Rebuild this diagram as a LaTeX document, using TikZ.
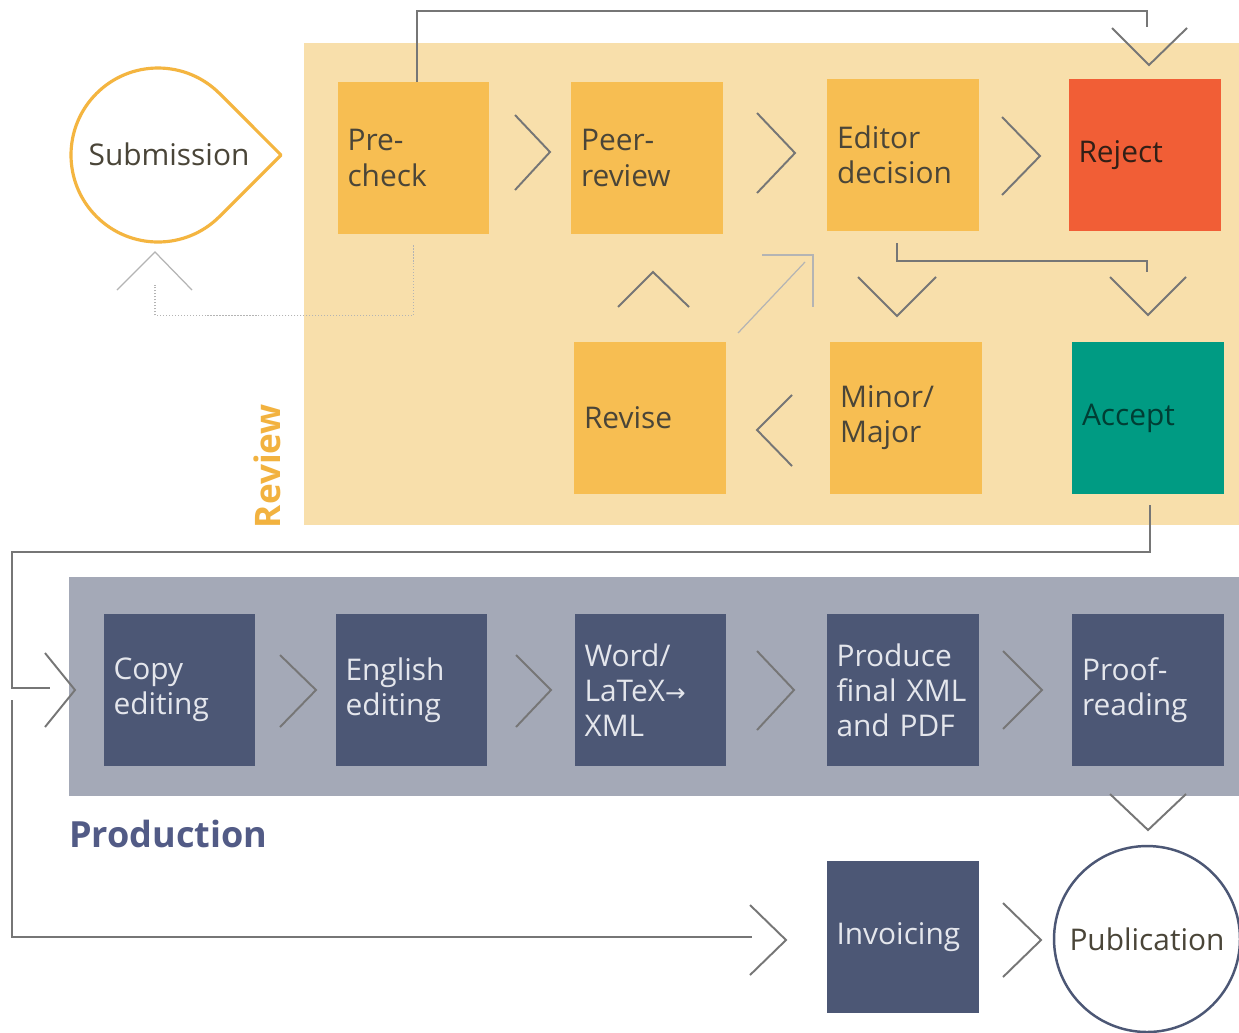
\documentclass[tikz,border=0pt]{standalone}
\usepackage{fontspec}
\setmainfont{Open Sans}
\newfontfamily\arrowfont{DejaVu Sans}
\usetikzlibrary{calc}
\definecolor{reviewbg}{HTML}{F8DFAB}
\definecolor{obox}{HTML}{F7BE52}
\definecolor{rejectc}{HTML}{F15E36}
\definecolor{acceptc}{HTML}{009B83}
\definecolor{prodbg}{HTML}{A4A9B7}
\definecolor{slate}{HTML}{4C5775}
\definecolor{linec}{HTML}{767676}
\definecolor{reviewlab}{HTML}{F2B23F}
\definecolor{prodlab}{HTML}{525B86}
\definecolor{subc}{HTML}{F4B540}
\definecolor{darktext}{HTML}{4A4538}
\definecolor{lighttext}{HTML}{E4E6EC}
\begin{document}
\begin{tikzpicture}[x=0.02cm,y=-0.02cm,
  every node/.style={inner sep=0pt},
  box/.style={minimum height=3.04cm, text width=2.64cm, inner xsep=0.2cm, inner ysep=0pt, align=left, font=\fontsize{17}{20}\selectfont},
  rbox/.style={box, fill=obox, text=darktext},
  pbox/.style={box, fill=slate, text=lighttext},
  chev/.style={draw=linec, line width=1.1pt},
  conn/.style={draw=linec, line width=1.1pt},
  faint/.style={draw=linec!55, line width=0.7pt},
]
\useasboundingbox (0,0) rectangle (1239,1032);
\fill[white] (0,0) rectangle (1239,1032);
% bands
\fill[reviewbg] (304,43) rectangle (1239,525);
\fill[prodbg] (69,577) rectangle (1239,796);
% labels
\node[rotate=90, font=\bfseries\fontsize{20}{24}\selectfont, text=reviewlab] (revlab) at (267,466) {Review};
\node[anchor=base west, font=\bfseries\fontsize{20.5}{24}\selectfont, text=prodlab] (prodlab) at (69,847) {Production};
% submission teardrop
\draw[subc, line width=1.8pt, line join=round] (158,155) ++(45:87) arc[start angle=45, end angle=315, radius=87] -- (281,155) -- cycle;
\node[font=\fontsize{17}{20}\selectfont, text=darktext] (sub) at (169,154) {Submission};
% review boxes
\node[rbox] (pre) at (413.5,158) {Pre-\\check};
\node[rbox] (peer) at (647,158) {Peer-\\review};
\node[rbox] (edit) at (903,155) {Editor\\decision};
\node[rbox, fill=rejectc, text=darktext!70!rejectc!40!black] (rej) at (1144.5,155) {\raisebox{-0.08cm}{Reject}};
\node[rbox] (rev) at (650,418) {\raisebox{-0.08cm}{Revise}};
\node[rbox] (minor) at (906,418) {Minor/\\Major};
\node[rbox, fill=acceptc, text=acceptc!40!black] (acc) at (1148,418) {\raisebox{-0.08cm}{Accept}};
% production boxes
\node[pbox] (copy) at (179.5,690) {Copy\\editing};
\node[pbox] (eng) at (411.5,690) {English\\editing};
\node[pbox] (word) at (650.5,690) {Word/\\LaTeX{\arrowfont\fontsize{14}{20}\selectfont →}\\XML};
\node[pbox] (prod) at (902.5,690) {Produce\\final XML\\and PDF};
\node[pbox] (proof) at (1148,690) {Proof-\\reading};
\node[pbox] (inv) at (902.5,937) {\raisebox{-0.12cm}{Invoicing}};
\node[circle, draw=slate, line width=1.4pt, minimum size=3.72cm, font=\fontsize{17}{20}\selectfont, text=darktext] (pub) at (1147,939) {Publication};
% coordinates
\coordinate (rejin) at (1147,27);
\coordinate (accin) at (1147,272);
\coordinate (subin) at (155,285);
\coordinate (leftcorner) at (12,688);
\coordinate (prodin) at (50,688);
\coordinate (bypass) at (12,700);
\coordinate (bypasscorner) at (12,937);
\coordinate (invin) at (752,937);
\coordinate (revA) at (738,333);
\coordinate (revB) at (805,262);
\coordinate (revC) at (762,255);
\coordinate (revD) at (813,255);
\coordinate (revE) at (813,307);
% connectors
\draw[conn] ([xshift=0.07cm]pre.north) -- ++(0,-71) -| (rejin);
\draw[conn] ($(edit.south)+(-6,12)$) -- ++(0,18) -| (accin);
\draw[faint, densely dotted] ($(pre.south)+(0,11)$) -- ++(0,70) -| (subin);
\draw[conn] ($(acc.south)+(2,11)$) -- ++(0,47) -| (leftcorner) -- (prodin);
\draw[conn] (bypass) -- (bypasscorner) -- (invin);
\draw[faint] (revA) -- (revB);
\draw[faint] (revC) -- (revD) -- (revE);
% chevrons (review)
\draw[chev] (515,115) -- (550,152) -- (515,190);
\draw[chev] (757,113) -- (795,153) -- (757,193);
\draw[chev] (1002,117) -- (1040,156) -- (1002,195);
\draw[chev] (1112,28) -- (1149,65) -- (1187,28);
\draw[chev] (858,277) -- (897,316) -- (936,277);
\draw[chev] (1110,277) -- (1148,315) -- (1186,277);
\draw[chev] (618,307) -- (653,272) -- (689,307);
\draw[chev] (792,395) -- (757,430) -- (792,466);
\draw[faint] (117,290) -- (155,252) -- (192,290);
% chevrons (production)
\draw[chev] (45,653) -- (75,690) -- (45,727);
\draw[chev] (280,655) -- (316,690) -- (280,727);
\draw[chev] (516,655) -- (551,690) -- (516,727);
\draw[chev] (757,651) -- (794,690) -- (757,730);
\draw[chev] (1003,651) -- (1042,690) -- (1003,729);
\draw[chev] (1110,794) -- (1148,830) -- (1186,794);
\draw[chev] (750,905) -- (786,940) -- (750,975);
\draw[chev] (1003,903) -- (1041,940) -- (1003,977);
\end{tikzpicture}
\end{document}
